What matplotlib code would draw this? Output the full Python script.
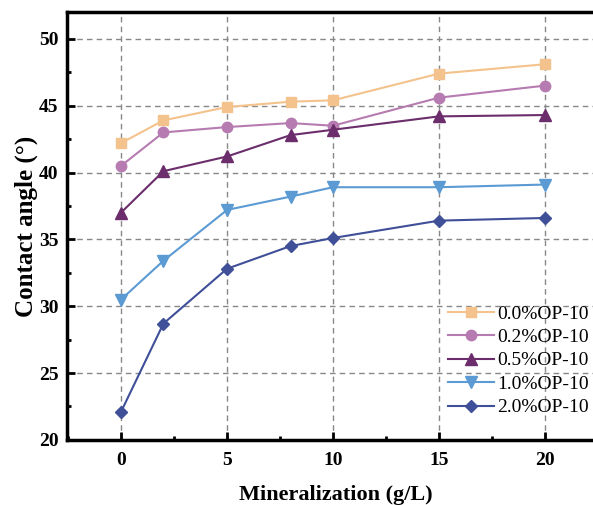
import matplotlib
matplotlib.use("Agg")
import matplotlib.pyplot as plt
from matplotlib.ticker import MultipleLocator

plt.rcParams['font.family'] = ['Liberation Serif', 'DejaVu Serif']

# mineralization (g/L)
x = [0, 2, 5, 8, 10, 15, 20]

op_00 = [42.2, 43.9, 44.9, 45.3, 45.4, 47.4, 48.1]
op_02 = [40.5, 43.0, 43.4, 43.7, 43.5, 45.6, 46.5]
op_05 = [37.0, 40.1, 41.2, 42.8, 43.2, 44.2, 44.3]
op_10 = [30.5, 33.4, 37.2, 38.2, 38.9, 38.9, 39.1]
op_20 = [22.1, 28.7, 32.8, 34.5, 35.1, 36.4, 36.6]

labels = ['0.0%OP-10', '0.2%OP-10', '0.5%OP-10', '1.0%OP-10', '2.0%OP-10']
series = [op_00, op_02, op_05, op_10, op_20]
colors = ['#F4C28C', '#B67BB0', '#6B2D6B', '#5B9AD3', '#3F4F98']
markers = ['s', 'o', '^', 'v', 'D']
msizes = [7, 7.5, 8.5, 8.5, 6.5]

fig = plt.figure(figsize=(5.93, 5.05), dpi=100)
ax = fig.add_axes([0.113, 0.129, 0.907, 0.847])

for ys, lab, c, m, ms in zip(series, labels, colors, markers, msizes):
    ax.plot(x, ys, color=c, marker=m, markersize=ms, lw=1.5, label=lab)

ax.set_xlim(-2.55, 22.83)
ax.set_ylim(20, 52)
ax.xaxis.set_major_locator(MultipleLocator(5))
ax.xaxis.set_minor_locator(MultipleLocator(2.5))
ax.yaxis.set_major_locator(MultipleLocator(5))
ax.yaxis.set_minor_locator(MultipleLocator(2.5))

ax.grid(True, which='major', ls=(0, (4, 3)), color='#888888', lw=1.0)
ax.set_axisbelow(True)

for s in ax.spines.values():
    s.set_linewidth(2.5)
ax.tick_params(which='major', direction='in', length=6, width=2, labelsize=14)
ax.tick_params(which='minor', direction='in', length=3, width=2)
ax.tick_params(axis='x', which='major', pad=9)
ax.tick_params(axis='y', which='major', pad=6)
for t in ax.get_xticklabels() + ax.get_yticklabels():
    t.set_fontweight('bold')

ax.set_xlabel('Mineralization (g/L)', fontsize=16, fontweight='bold', labelpad=11)
ax.set_ylabel('Contact angle (°)', fontsize=18, fontweight='bold', labelpad=1)

ax.legend(loc='lower left', bbox_to_anchor=(0.708, 0.055), frameon=False,
          fontsize=14, handlelength=2.4, handletextpad=0.15, labelspacing=0.3,
          borderpad=0, borderaxespad=0)

fig.savefig('out.png', dpi=100)
